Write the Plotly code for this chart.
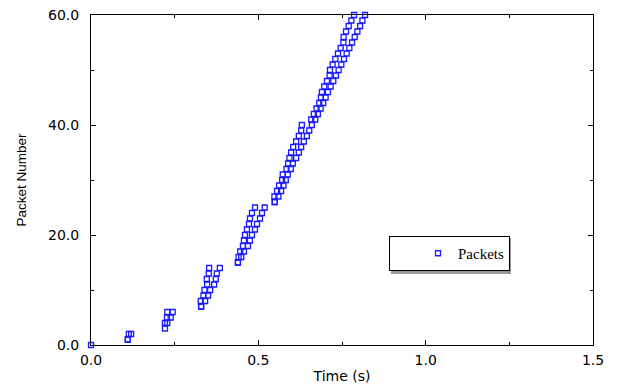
import plotly.graph_objects as go

# Packet numbers and the (up to two) times each one appears at (seconds)
packet_no = [0, 1, 2, 3, 4, 5, 6, 7, 8, 9, 10, 11, 12, 13, 14, 15, 16, 17, 18, 19, 20,
             21, 22, 23, 24, 25, 26, 27, 28, 29, 30, 31, 32, 33, 34, 35, 36, 37, 38, 39, 40,
             41, 42, 43, 44, 45, 46, 47, 48, 49, 50, 51, 52, 53, 54, 55, 56, 57, 58, 59, 60]
time_a = [0.000, 0.110, 0.113, 0.221, 0.221, 0.227, 0.228, 0.329, 0.328, 0.336, 0.339,
          0.347, 0.346, 0.352, 0.353, 0.439, 0.441, 0.446, 0.454, 0.457, 0.460,
          0.466, 0.472, 0.475, 0.481, 0.490, 0.549, 0.548, 0.556, 0.562, 0.571,
          0.573, 0.584, 0.589, 0.593, 0.598, 0.604, 0.613, 0.621, 0.628, 0.630,
          0.658, 0.666, 0.674, 0.682, 0.687, 0.690, 0.697, 0.705, 0.713, 0.714,
          0.722, 0.730, 0.738, 0.746, 0.754, 0.755, 0.762, 0.770, 0.778, 0.786]
time_b = [None, 0.110, 0.120, None, 0.228, 0.238, 0.244, 0.329, 0.341, 0.350, 0.356,
          0.368, 0.373, 0.376, 0.385, 0.439, 0.449, 0.457, 0.469, 0.475, 0.481,
          0.490, 0.496, 0.505, 0.511, 0.519, 0.549, 0.560, 0.568, 0.575, 0.582,
          0.588, 0.597, 0.603, 0.613, 0.621, 0.628, 0.636, 0.645, 0.652, 0.660,
          0.670, 0.678, 0.686, 0.694, 0.701, 0.708, 0.716, 0.724, 0.732, 0.740,
          0.748, 0.756, 0.764, 0.772, 0.780, 0.788, 0.796, 0.804, 0.811, 0.819]

x_ticks = [0.0, 0.5, 1.0, 1.5]
x_tick_labels = ["0.0", "0.5", "1.0", "1.5"]
y_ticks = [0, 20, 40, 60]
y_tick_labels = ["0.0", "20.0", "40.0", "60.0"]

xs, ys = [], []
for n, a, b in zip(packet_no, time_a, time_b):
    xs.append(a); ys.append(n)
    if b is not None:
        xs.append(b); ys.append(n)

blue = "#1a1aff"
fig = go.Figure()
fig.add_trace(go.Scatter(
    x=xs, y=ys, mode="markers", name="Packets",
    marker=dict(symbol="square-open", size=5, color=blue, line=dict(width=1.3, color=blue)),
    cliponaxis=False,
))

axis_common = dict(
    showline=True, linecolor="black", linewidth=1, mirror="ticks",
    ticks="inside", ticklen=5, tickwidth=1, tickcolor="black",
    showgrid=False, zeroline=False, automargin=False,
    tickfont=dict(family="DejaVu Sans", size=14, color="black"),
    minor=dict(ticks="inside", ticklen=3, tickcolor="black", tickwidth=1, showgrid=False),
)

fig.update_xaxes(
    range=[0, 1.5], tickvals=x_ticks, ticktext=x_tick_labels,
    title=dict(text="Time (s)", font=dict(family="DejaVu Sans", size=14, color="black"), standoff=4),
    minor_dtick=0.25, ticklabelstandoff=2,
    **axis_common,
)
fig.update_yaxes(
    range=[0, 60], tickvals=y_ticks, ticktext=y_tick_labels,
    title=dict(text="Packet Number", font=dict(family="Liberation Sans", size=13.5, color="black"), standoff=18),
    minor_dtick=10, ticklabelstandoff=8,
    **axis_common,
)

# legend shadow
lx0, ly_top = 389, 236
lw, lh = 120, 36
def px_to_paper_x(p):
    return (p - 91) / 502
def px_to_paper_y(p):
    return (345 - p) / 330
fig.add_shape(type="rect", xref="paper", yref="paper",
              x0=px_to_paper_x(lx0 + 2), x1=px_to_paper_x(lx0 + lw + 2),
              y0=px_to_paper_y(ly_top + lh + 2), y1=px_to_paper_y(ly_top + 2),
              fillcolor="#999999", line=dict(width=0), layer="above")

fig.update_layout(
    width=621, height=387,
    margin=dict(l=91, r=28, t=15, b=42, autoexpand=False),
    paper_bgcolor="white", plot_bgcolor="white",
    showlegend=True,
    legend=dict(
        x=px_to_paper_x(lx0), y=px_to_paper_y(ly_top), xanchor="left", yanchor="top",
        bgcolor="white", bordercolor="black", borderwidth=1,
        font=dict(family="Liberation Serif", size=15, color="black"),
        indentation=28, itemwidth=30,
    ),
)

fig.write_html("out.html", config={"displayModeBar": False},
               post_script="document.body.style.margin='0px';")
